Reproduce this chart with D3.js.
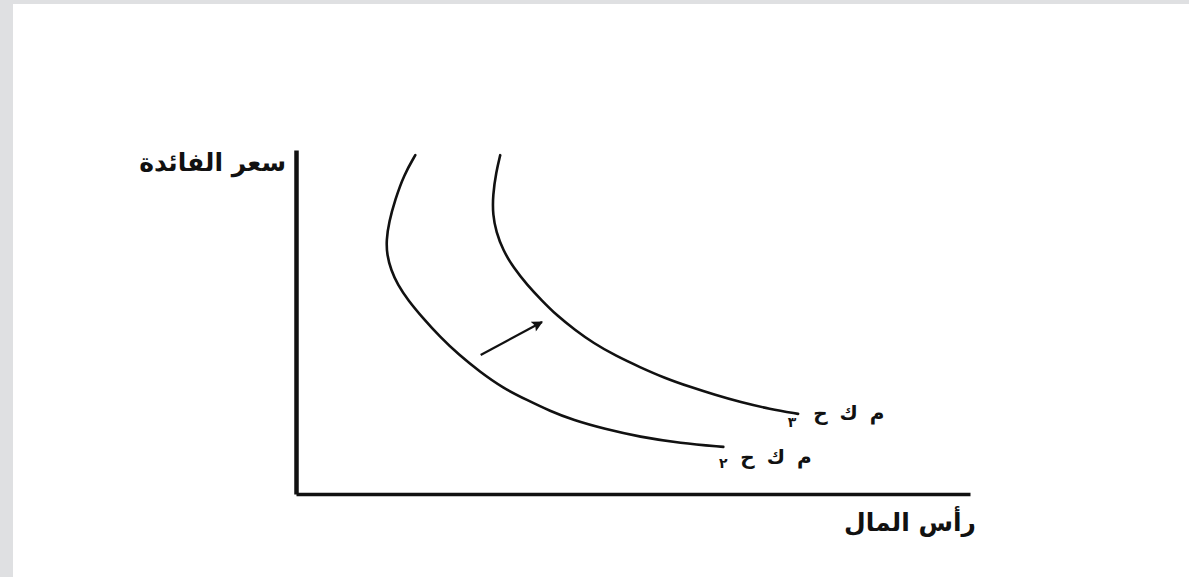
<!DOCTYPE html>
<html>
<head>
<meta charset="utf-8">
<script src="https://cdn.jsdelivr.net/npm/d3@7"></script>
<style>
  body { margin: 0; background: #dfe0e2; }
  svg { display: block; }
  text { font-family: "DejaVu Sans", sans-serif; fill: #111; }
</style>
</head>
<body>
<svg id="chart" width="1189" height="577"></svg>
<script>
// curve points (capital, interest rate), axis units 0..100
var mkh1X = [17.7, 16.0, 14.7, 13.8, 13.4, 13.5, 14.1, 15.1, 16.6, 18.8, 21.4, 24.2, 27.3, 30.7, 34.3, 37.7, 41.1, 45.8, 51.0, 57.0, 63.4];
var mkh1Y = [98.5, 92.7, 85.5, 79.1, 73.8, 69.5, 65.1, 60.8, 56.4, 51.2, 45.6, 40.4, 35.5, 30.8, 27.3, 24.1, 21.5, 18.9, 16.6, 14.8, 13.7];
var mkh2X = [30.3, 29.7, 29.2, 29.2, 29.7, 30.7, 32.3, 34.3, 36.4, 38.7, 41.4, 44.1, 47.5, 51.0, 54.7, 58.5, 62.2, 65.9, 70.3, 74.5];
var mkh2Y = [98.5, 93.6, 86.9, 81.1, 76.2, 70.9, 65.7, 60.8, 56.4, 51.9, 47.7, 43.9, 40.1, 36.9, 33.7, 31.1, 28.8, 26.7, 24.7, 23.3];
var shiftX = [27.4, 36.5];
var shiftY = [40.4, 50.0];
var curveNames = ["م ك ح", "م ك ح"];
var curveSubs = ["٢", "٣"];
var yTitle = "سعر الفائدة";
var xTitle = "رأس المال";

var svg = d3.select("#chart");

// page frame
svg.append("rect").attr("x", 0).attr("y", 0).attr("width", 1189).attr("height", 577).attr("fill", "#dfe0e2");
svg.append("rect").attr("x", 13).attr("y", 4).attr("width", 1176).attr("height", 573).attr("fill", "#fff");

var x = d3.scaleLinear().domain([0, 100]).range([296, 970]);
var y = d3.scaleLinear().domain([0, 100]).range([494, 150]);

// axes (no ticks, just the two lines)
var xAxis = d3.axisBottom(x).tickValues([]).tickSizeOuter(0);
var yAxis = d3.axisLeft(y).tickValues([]).tickSizeOuter(0);
svg.append("g").attr("transform", "translate(0," + y(0) + ")").call(xAxis)
    .select(".domain").attr("stroke", "#111").attr("stroke-width", 3.5);
svg.append("g").attr("transform", "translate(" + x(0) + ",0)").call(yAxis)
    .select(".domain").attr("stroke", "#111").attr("stroke-width", 4.5);

// basis smooths out the hand-read wobble
var line = d3.line()
    .x(function(d){ return x(d[0]); })
    .y(function(d){ return y(d[1]); })
    .curve(d3.curveBasis);

var curves = [d3.zip(mkh1X, mkh1Y), d3.zip(mkh2X, mkh2Y)];
svg.selectAll("path.curve").data(curves).enter().append("path")
    .attr("class", "curve")
    .attr("d", line)
    .attr("fill", "none")
    .attr("stroke", "#111")
    .attr("stroke-width", 2.6)
    .attr("stroke-linecap", "round");

// shift arrow
svg.append("defs").append("marker")
    .attr("id", "head")
    .attr("viewBox", "0 0 10 10")
    .attr("refX", 9).attr("refY", 5)
    .attr("markerWidth", 7).attr("markerHeight", 5)
    .attr("markerUnits", "strokeWidth")
    .attr("orient", "auto")
  .append("path").attr("d", "M0,0L10,5L0,10L2,5Z").attr("fill", "#111");
svg.append("line")
    .attr("x1", x(shiftX[0])).attr("y1", y(shiftY[0]))
    .attr("x2", x(shiftX[1])).attr("y2", y(shiftY[1]))
    .attr("stroke", "#111").attr("stroke-width", 2.2)
    .attr("marker-end", "url(#head)");

// curve labels at the ends: lower one sits under the end, upper one beside it
var labelDx = [17, 15], labelDy = [17, 6];
var subDx = [0, -6], subDy = [21, 13];
curves.forEach(function(c, i){
  var end = c[c.length - 1];
  var ex = x(end[0]), ey = y(end[1]);
  svg.append("text")
      .attr("x", ex + labelDx[i]).attr("y", ey + labelDy[i])
      .attr("font-size", 20).attr("font-weight", "bold")
      .attr("word-spacing", 5)
      .text(curveNames[i]);
  svg.append("text")
      .attr("x", ex + subDx[i]).attr("y", ey + subDy[i])
      .attr("text-anchor", "middle")
      .attr("font-size", 14).attr("font-weight", "bold")
      .text(curveSubs[i]);
});

// axis titles
svg.append("text")
    .attr("x", 286).attr("y", 171)
    .attr("text-anchor", "end")
    .attr("font-size", 25).attr("font-weight", "bold")
    .text(yTitle);
svg.append("text")
    .attr("x", 976).attr("y", 531)
    .attr("text-anchor", "end")
    .attr("font-size", 25).attr("font-weight", "bold")
    .text(xTitle);
</script>
</body>
</html>
